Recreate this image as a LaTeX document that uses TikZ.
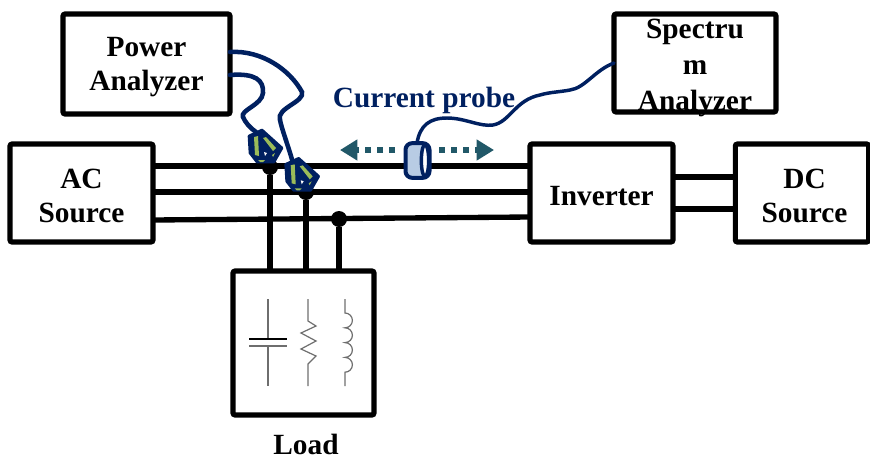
\documentclass[tikz,border=0pt]{standalone}
\usepackage{xcolor}
\usepackage{fontspec}
\setmainfont{Liberation Serif}
\usetikzlibrary{shapes,arrows.meta,positioning,calc}
\definecolor{wireblue}{RGB}{0,32,96}
\definecolor{clampgreen}{RGB}{155,187,89}
\definecolor{sleeve}{RGB}{184,204,228}
\definecolor{travel}{RGB}{33,88,104}
\definecolor{partgray}{RGB}{110,110,110}
\tikzset{
  block/.style={rectangle, draw, line width=3.8pt, rounded corners=1.5pt, outer sep=0pt},
  blockname/.style={align=center, inner sep=0pt, font=\fontsize{22}{25.5}\selectfont\bfseries},
  bus/.style={line width=4pt},
  joint/.style={circle, fill=black, inner sep=0pt, minimum size=12pt},
  wire/.style={draw=wireblue, line width=3.4pt, line cap=round},
  part/.style={draw=partgray, line width=0.9pt},
  motion/.style={draw=travel, line width=3.8pt, dash pattern=on 4.5pt off 4.5pt, -{Triangle[length=13pt,width=15pt]}},
  clamp/.pic={
    \filldraw[wireblue, line width=2pt, line join=round] (-16,-11) -- (-3,-17) -- (17,1) -- (9,15) -- (-8,15) -- (-15,6) -- cycle;
    \fill[clampgreen] (-11,-10) -- (-7,-11) -- (-6,9) -- (-10,8) -- cycle;
    \fill[clampgreen] (-2,-9) -- (1,-10) -- (11,1) -- (8,4) -- cycle;
    \fill[clampgreen] (-7,13) -- (0,13) -- (-2,15) -- (-5,15) -- cycle;
    \fill[clampgreen] (7,8) -- (10,6) -- (8,10) -- cycle;
    \fill[white] (-1,5) -- (2,6) -- (0,9) -- cycle;
  }
}
\begin{document}
\begin{tikzpicture}[x=0.75pt,y=-0.75pt]
\useasboundingbox (0,0) rectangle (870,457);
\node[block, minimum width=125.25pt, minimum height=75pt] (power) at (146.5,64) {};
\node[block, minimum width=121.5pt, minimum height=73.5pt] (spectrum) at (695,63) {};
\node[block, minimum width=107.25pt, minimum height=73.5pt] (ac) at (81.5,193) {};
\node[block, minimum width=107.25pt, minimum height=73.5pt] (inverter) at (601.5,193) {};
\node[block, minimum width=100pt, minimum height=73.5pt] (dc) at (802,193) {};
\node[block, minimum width=105.75pt, minimum height=108pt] (load) at (303.5,343) {};

\node[blockname] (powername) at (146.5,67) {Power\\Analyzer};
\node[blockname, font=\fontsize{22}{27}\selectfont\bfseries] (spectrumname) at (695,68) {Spectru\\m\\Analyzer};
\node[blockname] (acname) at (81.5,196) {AC\\Source};
\node[blockname] (invertername) at (601.5,196) {Inverter};
\node[blockname] (dcname) at (804.5,196) {DC\\Source};
\node[blockname] (loadname) at (306,444) {Load};
\node[blockname, text=wireblue] (probename) at (424,100) {Current probe};

% three phase lines
\draw[bus] (ac.east |- 0,166) -- (inverter.west |- 0,166);
\draw[bus] (ac.east |- 0,192) -- (inverter.west |- 0,192);
\draw[bus] (ac.east |- 0,220) -- (inverter.west |- 0,217);
\draw[bus] (inverter.east |- 0,177) -- (dc.west |- 0,177);
\draw[bus] (inverter.east |- 0,209) -- (dc.west |- 0,209);

\node[joint] (ja) at (270,167) {};
\node[joint] (jb) at (306,192) {};
\node[joint] (jc) at (339,219) {};
\draw[bus] (ja) -- (ja |- load.north);
\draw[bus] (jb) -- (jb |- load.north);
\draw[bus] (jc) -- (jc |- load.north);

% capacitor
\coordinate (captop) at (268,299);
\coordinate (capbot) at (268,386);
\draw[part] (captop) -- (268,339);
\draw[part] (268,346) -- (capbot);
\draw[black, line width=0.9pt] (249,339) -- (287,339);
\draw[part] (249,346) -- (287,346);
% resistor
\draw[part] (308,299) -- (308,321) -- (316,326) -- (301,333) -- (316,341) -- (301,349) -- (316,356) -- (308,364) -- (308,386);
% inductor
\draw[part] (345,299) -- (345,313) arc (-90:90:7.4) arc (-90:90:7.4) arc (-90:90:7.4) arc (-90:90:7.4) -- (345,386);

% clamps and probe leads
\coordinate (clampa) at (265,147);
\coordinate (clampb) at (301.7,175.3);
\draw[wire] (power.east |- 0,52) .. controls (262,50) and (290,70) .. (302,92) .. controls (305,102) and (276,108) .. (280,120) .. controls (282,130) and (288,145) .. (293,163);
\draw[wire] (power.east |- 0,75) .. controls (255,73) and (264,80) .. (263,93) .. controls (262,105) and (240,110) .. (243,117) .. controls (245,122) and (250,128) .. (256,132);
\pic at (clampa) {clamp};
\pic at (clampb) {clamp};

% current probe
\coordinate (leadend) at (417,143);
\draw[wire, line width=2.6pt] (leadend) .. controls (420,125) and (430,118) .. (447,118) .. controls (465,118) and (480,127) .. (493,125) .. controls (510,122) and (515,100) .. (540,95) .. controls (550,92) and (560,92) .. (570,90) .. controls (585,88) and (595,70) .. (spectrum.west |- 0,63);
\node[rectangle, rounded corners=5pt, draw=wireblue, fill=sleeve, line width=3pt, minimum width=18pt, minimum height=26pt, inner sep=0pt] (probe) at (417.5,160.5) {};
\node[ellipse, draw=wireblue, fill=white, line width=2.6pt, minimum width=5.5pt, minimum height=24pt, inner sep=0pt] (probemouth) at (425,160.5) {};

\coordinate (goleft) at (340,150);
\coordinate (goright) at (494,150);
\draw[motion] (395,150) -- (goleft);
\draw[motion] (439,150) -- (goright);
\end{tikzpicture}
\end{document}
